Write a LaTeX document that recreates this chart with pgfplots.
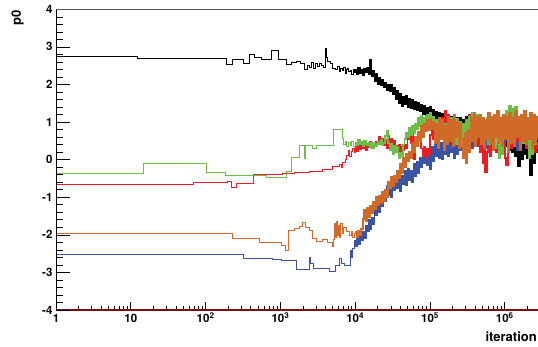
\documentclass[border=0pt]{standalone}
\usepackage{pgfplots}
\pgfplotsset{compat=1.18}
\usepackage{pgfplotstable}
\usepackage{fontspec}
\setmainfont{TeX Gyre Heros}
\usetikzlibrary{calc}

\definecolor{cgreen}{RGB}{108,190,70}
\definecolor{cred}{RGB}{237,28,36}
\definecolor{cblue}{RGB}{58,83,164}
\definecolor{corange}{RGB}{208,106,40}
\definecolor{axisred}{RGB}{120,18,18}

\pgfplotstableread{
x bk gr rd bl or
10000 2.38 0.45 0.35 -2.30 -1.92
10471 2.27 0.38 0.22 -2.05 -2.06
10965 2.44 0.52 0.40 -2.25 -1.89
11482 2.31 0.40 0.28 -2.00 -2.02
12023 2.40 0.48 0.45 -2.15 -1.84
12589 2.25 0.36 0.30 -1.92 -1.58
13183 2.42 0.50 0.38 -2.08 -1.33
13804 2.32 0.42 0.25 -1.75 -1.63
14454 2.45 0.38 0.42 -1.90 -1.28
15136 2.28 0.46 0.32 -1.60 -1.53
15849 2.66 0.33 0.47 -1.85 -1.23
16596 2.22 0.44 0.30 -1.55 -1.43
17378 2.35 0.30 0.40 -1.72 -1.12
18197 2.10 0.42 0.35 -1.35 -1.31
19055 2.28 0.35 0.48 -1.47 -1.00
19953 2.02 0.48 0.42 -1.10 -1.22
20893 2.18 0.40 0.60 -1.40 -0.96
21878 1.98 0.52 0.45 -1.05 -1.16
22909 2.12 0.38 0.55 -1.25 -0.86
23988 1.92 0.45 0.38 -0.85 -1.11
25119 2.05 0.62 0.52 -1.10 -0.81
26303 1.85 0.76 0.30 -0.70 -1.00
27542 2.00 0.45 0.63 -0.95 -0.60
28840 1.82 0.25 0.40 -0.72 -0.76
30200 1.98 0.42 0.55 -1.00 -0.45
31623 1.74 0.15 0.32 -0.60 -0.70
33113 1.90 0.38 0.50 -0.80 -0.42
34674 1.62 0.20 0.36 -0.45 -0.60
36308 1.82 0.35 0.28 -0.75 -0.30
38019 1.50 0.05 0.40 -0.50 -0.50
39811 1.75 0.18 0.22 -0.84 -0.10
41687 1.42 0.10 0.35 -0.42 -0.35
43652 1.68 0.40 0.25 -0.65 0.05
45709 1.48 0.55 0.40 -0.30 -0.20
47863 1.70 0.72 0.30 -0.68 0.15
50119 1.40 0.60 0.55 -0.25 -0.05
52481 1.62 0.85 0.70 -0.55 0.20
54954 1.38 0.65 0.45 -0.30 0.05
57544 1.58 0.90 0.75 -0.60 0.45
60256 1.35 0.70 0.02 -0.10 0.20
63096 1.55 0.95 0.60 -0.45 0.60
66069 1.32 0.80 0.40 -0.05 0.35
69183 1.52 1.10 0.72 -0.35 0.75
72444 1.30 0.88 0.50 0.05 0.50
75858 1.45 1.16 0.30 -0.20 0.90
79433 1.22 0.95 0.10 0.15 0.60
83176 1.42 1.12 0.35 -0.10 0.95
87096 1.18 0.90 0.05 0.25 0.75
91201 1.38 1.20 0.30 -0.15 1.05
95499 1.15 0.98 0.15 0.30 0.78
100000 1.40 1.25 0.65 -0.25 1.08
104713 1.12 0.92 0.80 0.35 0.80
109648 1.32 1.15 0.55 -0.05 1.00
114815 1.08 0.78 0.88 0.55 0.45
120226 1.28 1.05 0.60 0.10 0.95
125893 1.05 0.70 0.75 0.60 0.30
131826 1.25 1.10 0.55 0.05 1.10
138038 1.02 0.62 0.85 0.45 0.55
144544 1.22 1.00 1.10 0.00 1.05
151356 0.98 0.55 0.90 0.50 0.25
158489 1.20 0.95 1.30 0.15 0.90
165959 1.00 0.45 0.95 0.60 0.40
173780 1.18 1.05 1.20 0.10 1.15
181970 0.95 0.60 0.80 0.55 0.50
190546 1.15 1.10 0.60 0.20 1.05
199526 0.92 0.50 0.90 0.63 0.35
208930 1.16 0.98 0.50 0.05 1.20
218776 0.90 0.40 0.85 0.50 0.60
229087 1.12 1.08 0.40 0.15 1.00
239883 0.88 0.55 0.75 0.60 0.30
251189 1.10 1.00 0.55 0.25 0.95
263027 0.85 0.35 0.95 0.55 0.55
275423 1.05 0.95 0.60 0.10 0.05
288403 0.80 0.50 0.85 0.70 0.70
301995 1.15 1.05 0.50 0.30 -0.10
316228 0.75 0.62 0.95 0.85 0.80
331131 1.20 1.15 1.20 0.40 0.20
346737 0.70 0.70 0.90 0.75 1.10
363078 1.10 1.25 1.25 0.30 0.50
380189 0.65 0.85 1.00 0.90 1.25
398107 1.05 1.20 1.15 0.45 0.35
416869 0.60 0.90 0.70 0.80 1.15
436516 1.00 1.18 0.40 0.35 0.60
457088 0.55 0.60 0.20 0.95 1.20
478630 0.95 1.05 0.55 0.50 0.40
501187 0.45 0.45 -0.10 0.85 1.10
524807 1.05 1.00 0.30 0.40 0.30
549541 0.50 0.55 -0.32 0.75 1.05
575440 0.98 1.10 0.20 0.30 0.55
602560 0.40 0.40 0.50 0.90 1.25
630957 1.00 0.95 0.10 0.55 0.45
660693 0.50 0.50 0.55 1.00 1.15
691831 1.05 1.05 0.25 0.45 0.25
724436 0.35 0.30 0.60 0.80 1.20
758578 0.95 0.90 0.20 0.35 0.60
794328 0.45 0.40 0.50 0.95 1.30
831764 1.00 0.05 0.30 0.50 0.50
870964 0.30 0.60 0.55 0.85 1.10
912011 0.90 0.15 0.20 0.40 0.35
954993 0.40 0.85 0.45 0.95 1.20
1000000 1.00 0.95 0.05 0.50 0.55
1047129 0.35 1.30 -0.15 0.90 1.15
1096478 0.95 0.90 0.20 0.30 0.20
1148154 0.25 1.42 0.50 0.85 1.25
1202264 0.90 1.00 0.30 0.45 0.45
1258925 0.20 1.35 0.70 1.00 1.10
1318257 0.85 0.95 0.40 0.55 0.35
1380384 0.10 1.40 0.85 0.90 1.30
1445440 0.80 0.80 0.50 0.25 0.60
1513561 -0.18 1.10 0.75 0.80 1.15
1584893 0.75 0.55 0.35 0.40 0.25
1659587 0.00 1.05 0.90 0.95 1.20
1737801 0.85 0.45 0.45 0.50 0.50
1819701 0.15 1.15 0.80 0.85 1.30
1905461 0.90 0.60 0.30 0.35 0.40
1995262 0.05 0.95 0.60 0.90 1.10
2089296 0.80 0.05 0.20 0.45 0.55
2187762 -0.42 0.50 0.45 1.00 1.25
2290868 0.70 0.15 0.25 0.50 0.30
2398833 -0.10 0.90 0.40 0.85 1.20
2511886 0.85 0.40 0.20 0.40 0.45
2630268 0.20 1.05 0.45 0.95 1.15
2754229 0.90 0.60 0.30 0.55 0.60
2884032 0.90 0.60 0.30 0.55 0.60
}\noisy

\begin{document}
\begin{tikzpicture}
\begin{axis}[
  name=ax, scale only axis, width=482pt, height=300.7pt,
  xmode=log, xmin=1, xmax=2.78e6, ymin=-4, ymax=4,
  axis x line*=bottom, axis y line*=left,
  x axis line style={draw=axisred, line width=1.3pt},
  y axis line style={draw=black, line width=0.8pt},
  tick align=inside,
  major tick length=8pt, minor tick length=4pt,
  every tick/.style={black, line width=0.6pt},
  xtick={1,10,100,1000,10000,100000,1000000},
  xticklabels={1,10,10\textsuperscript{2},10\textsuperscript{3},10\textsuperscript{4},10\textsuperscript{5},10\textsuperscript{6}},
  minor xtick={2,3,4,5,6,7,8,9,20,30,40,50,60,70,80,90,200,300,400,500,600,700,800,900,2000,3000,4000,5000,6000,7000,8000,9000,20000,30000,40000,50000,60000,70000,80000,90000,200000,300000,400000,500000,600000,700000,800000,900000,2000000},
  ytick=\empty,
  xticklabel style={anchor=base, yshift=-13pt, font=\bfseries\fontsize{11.5}{12}\selectfont},
  every axis plot/.append style={const plot, line width=0.7pt},
  no markers,
]
% black
\addplot[black] coordinates {(1,2.74) (12.4,2.69) (189,2.53) (231,2.68) (315,2.56) (386,2.79) (450,2.72) (552,2.68) (751,2.92) (950,2.68) (1190,2.53) (1400,2.58) (1620,2.61) (1850,2.55) (2090,2.41) (2300,2.50) (2450,2.45) (2600,2.58) (2750,2.43) (2900,2.55) (3100,2.47) (3300,2.57) (3500,2.50) (3750,2.46) (4000,2.96) (4150,2.72) (4280,2.61) (4600,2.55) (4900,2.44) (5200,2.42) (5500,2.40) (5800,2.48) (6100,2.36) (6400,2.42) (6700,2.38) (7000,2.45) (7300,2.30) (7600,2.40) (7900,2.43) (8200,2.34) (8600,2.38) (9000,2.28) (9400,2.41) (9700,2.33) (10000,2.38)};
\addplot[black, line width=1.7pt] table[x=x, y=bk] {\noisy};
% blue
\addplot[cblue] coordinates {(1,-2.51) (315,-2.62) (790,-2.65) (1020,-2.68) (1620,-2.92) (2440,-2.59) (2550,-2.77) (2750,-2.89) (4490,-2.98) (5500,-2.81) (6100,-2.62) (6600,-2.77) (7200,-2.80) (8700,-2.40) (9000,-2.60) (9300,-2.36) (9700,-2.14) (10000,-2.30)};
\addplot[cblue, line width=1.7pt] table[x=x, y=bl] {\noisy};
% red
\addplot[cred] coordinates {(1,-0.67) (67.6,-0.61) (198,-0.57) (220,-0.73) (256,-0.63) (440,-0.39) (1070,-0.37) (1540,-0.34) (2440,-0.30) (3650,-0.26) (5000,-0.19) (6200,-0.12) (6500,-0.20) (6800,-0.06) (7300,0.01) (7600,0.11) (8000,0.25) (8400,0.08) (8800,0.22) (9200,0.29) (9600,0.19) (10000,0.35)};
\addplot[cred, line width=1.7pt] table[x=x, y=rd] {\noisy};
% green
\addplot[cgreen] coordinates {(1,-0.37) (14.9,-0.11) (102,-0.35) (183,-0.43) (643,-0.48) (1200,-0.32) (1420,0.07) (1780,0.39) (2060,0.04) (2150,0.39) (2660,0.30) (3000,0.39) (5100,0.80) (6800,0.57) (6900,0.40) (7300,0.48) (7700,0.36) (8100,0.46) (8500,0.38) (9000,0.50) (9500,0.36) (10000,0.45)};
\addplot[cgreen, line width=1.7pt] table[x=x, y=gr] {\noisy};
% orange
\addplot[corange] coordinates {(1,-1.95) (231,-2.09) (525,-2.20) (1020,-2.29) (1170,-2.40) (1290,-1.88) (1540,-1.84) (1780,-1.78) (1990,-1.68) (2150,-1.81) (2440,-1.88) (2700,-2.09) (3000,-2.18) (3650,-2.13) (4280,-2.21) (5000,-2.31) (5100,-2.11) (5300,-1.70) (5500,-2.06) (5650,-1.65) (5800,-2.01) (6000,-1.75) (6200,-2.06) (6400,-1.70) (6700,-1.96) (7000,-1.80) (7560,-1.92) (8400,-2.01) (8800,-1.90) (9300,-2.06) (9700,-1.96) (10000,-1.92)};
\addplot[corange, line width=1.7pt] table[x=x, y=or] {\noisy};
\end{axis}
\begin{axis}[
  scale only axis, width=482pt, height=300.7pt,
  at={(ax.south west)}, anchor=south west,
  xmode=log, xmin=1, xmax=2.78e6, ymin=-4, ymax=4,
  axis x line=none, axis y line*=left,
  y axis line style={draw=black, line width=0.8pt},
  tick align=inside,
  major tick length=14pt, minor tick length=7pt,
  every tick/.style={black, line width=0.6pt},
  ytick={-4,-3,-2,-1,0,1,2,3,4},
  yticklabels={-4,-3,-2,-1,0,1,2,3,4},
  minor y tick num=4,
  yticklabel style={anchor=east, font=\bfseries\fontsize{11.5}{12}\selectfont},
]
\addplot[draw=none] coordinates {(1,0) (10,0)};
\end{axis}
\draw[black!65, line width=0.8pt] (ax.north west) -- (ax.north east);
\node[rotate=90, anchor=south east, inner sep=0pt, font=\bfseries\fontsize{13}{14}\selectfont] at ($(ax.north west)+(-32pt,-0.7pt)$) {p0};
\node[anchor=base east, inner sep=0pt, font=\bfseries\fontsize{13}{14}\selectfont] at ($(ax.south east)+(-1pt,-32pt)$) {iteration};
\pgfresetboundingbox
\path ($(ax.south west)+(-56pt,-37pt)$) rectangle ($(ax.north east)+(0,9.3pt)$);
\end{tikzpicture}
\end{document}
